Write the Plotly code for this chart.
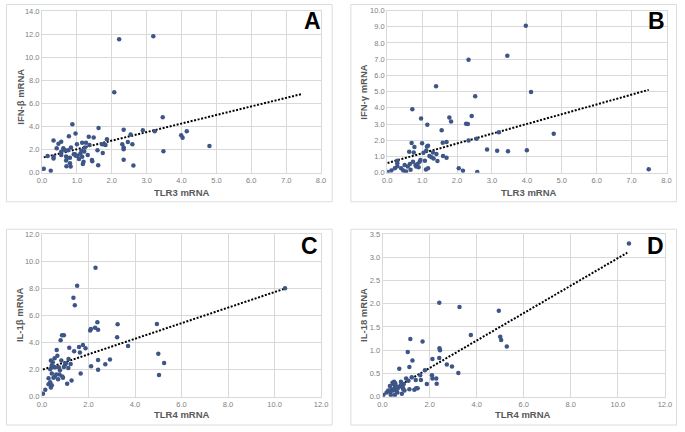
import plotly.graph_objects as go

# panel A: TLR3 vs IFN-beta
a_x = [0.05, 0.16, 0.25, 0.33, 0.33, 0.33, 0.42, 0.47, 0.55, 0.55, 0.55, 0.61, 0.66, 0.69, 0.69,
       0.70, 0.72, 0.75, 0.77, 0.80, 0.80, 0.82, 0.83, 0.87, 0.91, 0.94, 0.96, 0.97, 1.00, 1.02,
       1.06, 1.10, 1.13, 1.15, 1.15, 1.17, 1.19, 1.21, 1.23, 1.26, 1.31, 1.34, 1.36, 1.43, 1.44,
       1.48, 1.59, 1.61, 1.62, 1.72, 1.74, 1.78, 1.82, 1.86, 2.07, 2.21, 2.30, 2.34, 2.34, 2.34,
       2.34, 2.46, 2.54, 2.59, 2.62, 2.89, 3.19, 3.23, 3.46, 3.48, 3.99, 4.03, 4.15, 4.80]
a_y = [0.34, 1.44, 0.17, 2.80, 1.39, 1.24, 2.12, 2.52, 2.69, 1.81, 1.53, 2.12, 1.95, 1.41, 1.05,
       0.57, 1.30, 1.95, 3.17, 1.30, 0.82, 0.54, 2.18, 4.21, 1.61, 1.61, 3.39, 1.47, 2.46, 1.47,
       1.19, 1.67, 1.90, 2.60, 1.39, 0.76, 0.96, 1.84, 2.18, 2.60, 1.53, 3.11, 2.40, 1.10, 0.99,
       3.06, 1.95, 0.65, 3.87, 2.46, 1.70, 2.46, 2.40, 2.91, 6.98, 11.57, 2.46, 3.73, 2.18, 2.04,
       1.13, 2.66, 3.31, 2.46, 0.62, 3.68, 11.82, 3.59, 4.81, 1.87, 3.25, 3.03, 3.59, 2.32]
trend_a_x = [0.05, 7.45]
trend_a_y = [1.33, 6.82]

# panel B: TLR3 vs IFN-gamma
b_x = [0.01, 0.12, 0.22, 0.29, 0.29, 0.29, 0.40, 0.46, 0.50, 0.54, 0.59, 0.63, 0.65, 0.67, 0.70,
       0.72, 0.74, 0.76, 0.78, 0.81, 0.83, 0.87, 0.90, 0.93, 0.95, 0.97, 1.00, 1.04, 1.08, 1.11,
       1.12, 1.14, 1.15, 1.17, 1.17, 1.21, 1.27, 1.31, 1.33, 1.40, 1.41, 1.44, 1.56, 1.59, 1.60,
       1.70, 1.70, 1.78, 1.83, 2.05, 2.17, 2.26, 2.31, 2.33, 2.33, 2.42, 2.52, 2.56, 2.58, 2.86,
       3.15, 3.20, 3.44, 3.46, 3.97, 4.00, 4.12, 4.77, 7.49]
b_y = [0.04, 0.14, 0.28, 0.40, 0.58, 0.74, 0.28, 0.14, 0.48, 0.08, 0.38, 1.29, 0.54, 0.18, 1.83,
       3.92, 0.68, 1.25, 1.59, 0.48, 0.38, 0.54, 0.34, 0.68, 0.78, 3.34, 1.81, 1.23, 0.74, 0.20,
       1.37, 1.61, 2.96, 1.67, 0.28, 1.03, 0.95, 1.25, 0.87, 5.33, 1.15, 0.72, 2.62, 1.85, 1.03,
       1.89, 0.93, 3.40, 3.16, 0.28, 0.12, 3.02, 3.00, 6.96, 1.99, 3.50, 4.71, 2.09, 0.04, 1.43,
       1.35, 2.50, 7.22, 1.33, 9.07, 1.39, 4.97, 2.41, 0.22]
trend_b_x = [0.01, 7.49]
trend_b_y = [0.60, 5.11]

# panel C: TLR4 vs IL-1beta
c_x = [0.04, 0.14, 0.28, 0.28, 0.35, 0.35, 0.38, 0.38, 0.42, 0.42, 0.42, 0.46, 0.49, 0.49, 0.54,
       0.55, 0.56, 0.61, 0.63, 0.66, 0.69, 0.72, 0.75, 0.77, 0.80, 0.83, 0.86, 0.87, 0.90, 0.94,
       0.94, 0.99, 1.03, 1.08, 1.13, 1.14, 1.17, 1.23, 1.27, 1.35, 1.38, 1.41, 1.51, 1.59, 1.63,
       1.66, 1.76, 1.87, 2.07, 2.10, 2.11, 2.28, 2.30, 2.38, 2.41, 2.41, 2.41, 2.72, 2.92, 3.23,
       3.25, 3.70, 4.94, 5.00, 5.03, 5.25, 10.45]
c_y = [0.22, 0.51, 1.35, 0.92, 2.02, 1.06, 2.67, 0.67, 2.31, 1.71, 0.84, 2.53, 2.19, 1.40, 2.84,
       1.47, 2.17, 1.64, 3.45, 3.01, 1.28, 2.17, 1.64, 1.95, 4.17, 2.67, 4.53, 1.49, 1.40, 4.53,
       2.19, 2.36, 2.46, 0.96, 2.12, 2.77, 3.61, 2.41, 1.20, 7.30, 3.35, 6.75, 8.19, 3.66, 3.25,
       1.71, 3.81, 3.57, 4.89, 4.99, 2.24, 5.08, 9.52, 5.49, 4.94, 2.70, 1.98, 2.39, 2.75, 4.39,
       5.35, 3.73, 5.37, 3.16, 1.59, 2.48, 8.00]
trend_c_x = [0.04, 10.45]
trend_c_y = [2.00, 7.98]

# panel D: TLR4 vs IL-18
d_x = [0.03, 0.17, 0.24, 0.31, 0.33, 0.35, 0.38, 0.42, 0.45, 0.46, 0.49, 0.52, 0.52, 0.54, 0.58,
       0.60, 0.63, 0.65, 0.71, 0.74, 0.78, 0.79, 0.82, 0.86, 0.88, 0.90, 0.93, 1.00, 1.07, 1.10,
       1.14, 1.14, 1.18, 1.24, 1.27, 1.35, 1.41, 1.43, 1.49, 1.60, 1.63, 1.70, 1.80, 1.88, 2.10,
       2.12, 2.12, 2.28, 2.30, 2.41, 2.41, 2.42, 2.44, 2.73, 2.95, 3.22, 3.27, 3.75, 4.94, 5.00,
       5.04, 5.28, 10.47]
d_y = [0.035, 0.09, 0.13, 0.23, 0.09, 0.035, 0.16, 0.30, 0.13, 0.27, 0.32, 0.20, 0.035, 0.29, 0.13,
       0.22, 0.09, 0.18, 0.60, 0.22, 0.32, 0.25, 0.06, 0.20, 0.16, 0.27, 0.13, 0.39, 0.96, 0.34,
       0.64, 0.16, 1.24, 0.42, 0.78, 0.15, 0.36, 0.18, 0.18, 0.46, 0.36, 1.19, 0.57, 0.27, 0.46,
       0.39, 0.81, 0.39, 0.28, 2.02, 0.83, 1.04, 1.00, 0.69, 0.65, 0.51, 1.93, 1.33, 1.85, 1.29,
       1.22, 1.08, 3.30]
trend_d_x = [0.03, 10.40]
trend_d_y = [0.035, 3.10]

panel_letters = ["A", "B", "C", "D"]
x_titles = ["TLR3 mRNA", "TLR3 mRNA", "TLR4 mRNA", "TLR4 mRNA"]
y_titles = ["IFN-β mRNA", "IFN-γ mRNA", "IL-1β mRNA", "IL-18 mRNA"]

W, H = 685, 432
FONT = "Liberation Sans, Arial, sans-serif"
MARKER = "#3d5587"
GRID = "#d9d9d9"

fig = go.Figure()

series = [
    (a_x, a_y, trend_a_x, trend_a_y),
    (b_x, b_y, trend_b_x, trend_b_y),
    (c_x, c_y, trend_c_x, trend_c_y),
    (d_x, d_y, trend_d_x, trend_d_y),
]
for i, (sx, sy, tx, ty) in enumerate(series):
    suffix = "" if i == 0 else str(i + 1)
    fig.add_trace(
        go.Scatter(
            x=tx, y=ty, mode="lines",
            line=dict(color="black", width=2, dash="2px,1.6px"),
            xaxis="x" + suffix, yaxis="y" + suffix,
            hoverinfo="skip",
        )
    )
    fig.add_trace(
        go.Scatter(
            x=sx, y=sy, mode="markers",
            marker=dict(color=MARKER, size=4.5, line=dict(width=0)),
            xaxis="x" + suffix, yaxis="y" + suffix,
        )
    )


def px_x(p):
    return p / W


def px_y(p):
    return 1 - p / H


def axis(domain, rng, dtick, anchor):
    return dict(
        domain=domain,
        range=rng,
        dtick=dtick,
        tick0=0,
        tickformat=".1f",
        anchor=anchor,
        showgrid=True,
        gridcolor=GRID,
        gridwidth=1,
        zeroline=False,
        showline=True,
        linecolor=GRID,
        mirror=True,
        ticks="",
        tickfont=dict(family=FONT, size=7.5, color="#808080"),
        fixedrange=True,
    )


# plot areas in pixels: (left, right, top, bottom)
areas = [
    (37.7, 321.7, 7.3, 172.3),
    (389.0, 673.3, 6.7, 172.3),
    (37.7, 321.7, 235.0, 401.0),
    (384.3, 671.7, 235.0, 401.0),
]
x_ranges = [[0, 8], [0, 8], [0, 12], [0, 12]]
y_ranges = [[0, 14], [0, 10], [0, 12], [0, 3.5]]
x_dticks = [1, 1, 2, 2]
y_dticks = [2, 1, 2, 0.5]

layout_axes = {}
for i in range(4):
    suffix = "" if i == 0 else str(i + 1)
    l, r, t, b = areas[i]
    layout_axes["xaxis" + suffix] = axis([px_x(l), px_x(r)], x_ranges[i], x_dticks[i], "y" + suffix)
    layout_axes["yaxis" + suffix] = axis([px_y(b), px_y(t)], y_ranges[i], y_dticks[i], "x" + suffix)

# panel frames (left, right, top, bottom) in pixels
frames = [(1.5, 333, 0.5, 202), (352, 683.5, 0.5, 202), (1.5, 333, 230, 430), (352, 683.5, 230, 430)]
shapes = [
    dict(type="rect", xref="paper", yref="paper",
         x0=px_x(l), x1=px_x(r), y0=px_y(b), y1=px_y(t),
         line=dict(color="#dcdcdc", width=1), layer="below")
    for l, r, t, b in frames
]

annotations = []
letter_pos = [(313, 17), (663, 17), (310, 247), (662, 247)]
xtitle_pos = [(180, 192), (533, 192), (180, 419), (527, 419)]
ytitle_pos = [(15, 95), (365, 90), (15, 318), (365, 318)]
for i in range(4):
    annotations.append(dict(
        text=panel_letters[i], x=px_x(letter_pos[i][0]), y=px_y(letter_pos[i][1]),
        xref="paper", yref="paper", showarrow=False, xanchor="center", yanchor="middle",
        font=dict(family=FONT, size=23, color="black", weight="bold"),
    ))
    annotations.append(dict(
        text=x_titles[i], x=px_x(xtitle_pos[i][0]), y=px_y(xtitle_pos[i][1]),
        xref="paper", yref="paper", showarrow=False, xanchor="center", yanchor="middle",
        font=dict(family=FONT, size=9.5, color="#595959", weight="bold"),
    ))
    annotations.append(dict(
        text=y_titles[i], x=px_x(ytitle_pos[i][0]), y=px_y(ytitle_pos[i][1]),
        xref="paper", yref="paper", showarrow=False, textangle=-90,
        xanchor="center", yanchor="middle",
        font=dict(family=FONT, size=9.5, color="#595959", weight="bold"),
    ))

fig.update_layout(
    width=W,
    height=H,
    margin=dict(l=0, r=0, t=0, b=0),
    paper_bgcolor="white",
    plot_bgcolor="white",
    showlegend=False,
    shapes=shapes,
    annotations=annotations,
    **layout_axes,
)

# the page body has a default 8px margin; drop it so the figure sits at the window corner
fig.write_html(
    "out.html",
    config={"displayModeBar": False},
    post_script="document.body.style.margin='0';",
)
